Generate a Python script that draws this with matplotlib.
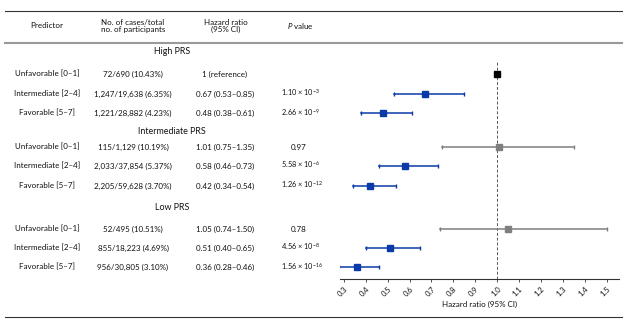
import matplotlib
matplotlib.use("Agg")
from matplotlib import pyplot as plt

plt.rcParams['font.family'] = ['Lato', 'DejaVu Sans']
plt.rcParams['mathtext.fontset'] = 'custom'
plt.rcParams['mathtext.rm'] = 'Lato'
plt.rcParams['mathtext.it'] = 'Lato:italic'

# data
groups = ['High PRS', 'Intermediate PRS', 'Low PRS']
predictors = ['Unfavorable [0\u20131]', 'Intermediate [2\u20134]', 'Favorable [5\u20137]']
cases = [['72/690 (10.43%)', '1,247/19,638 (6.35%)', '1,221/28,882 (4.23%)'],
         ['115/1,129 (10.19%)', '2,033/37,854 (5.37%)', '2,205/59,628 (3.70%)'],
         ['52/495 (10.51%)', '855/18,223 (4.69%)', '956/30,805 (3.10%)']]
hr_text = [['1 (reference)', '0.67 (0.53\u20130.85)', '0.48 (0.38\u20130.61)'],
           ['1.01 (0.75\u20131.35)', '0.58 (0.46\u20130.73)', '0.42 (0.34\u20130.54)'],
           ['1.05 (0.74\u20131.50)', '0.51 (0.40\u20130.65)', '0.36 (0.28\u20130.46)']]
p_text = [['', r'1.10 × 10$^{-3}$', r'2.66 × 10$^{-9}$'],
          ['0.97', r'5.58 × 10$^{-6}$', r'1.26 × 10$^{-12}$'],
          ['0.78', r'4.56 × 10$^{-8}$', r'1.56 × 10$^{-16}$']]
hr = [[1.0, 0.67, 0.48], [1.01, 0.58, 0.42], [1.05, 0.51, 0.36]]
lo = [[None, 0.53, 0.38], [0.75, 0.46, 0.34], [0.74, 0.40, 0.28]]
hi = [[None, 0.85, 0.61], [1.35, 0.73, 0.54], [1.50, 0.65, 0.46]]
xticks = [0.3, 0.4, 0.5, 0.6, 0.7, 0.8, 0.9, 1.0, 1.1, 1.2, 1.3, 1.4, 1.5]

# layout (pixel rows)
group_y = [52, 131, 208]
row_y = [[74, 94, 113], [147, 166, 186], [229, 248, 267]]

W, H = 626, 323
fig = plt.figure(figsize=(W / 100, H / 100), dpi=100)

# overlay axes in pixel coords for the table text
tab = fig.add_axes([0, 0, 1, 1])
tab.set_xlim(0, W)
tab.set_ylim(H, 0)
tab.axis('off')

txt_col = '#111111'
fs = 5.8
tab.plot([5, 622], [11, 11], color='#333333', lw=0.8)
tab.plot([5, 622], [43, 43], color='#999999', lw=1.5)
tab.plot([5, 622], [317, 317], color='#333333', lw=0.8)

tab.text(47, 26, 'Predictor', ha='center', va='center', fontsize=fs, color=txt_col)
tab.text(101, 26, 'No. of cases/total\nno. of participants', ha='left', va='center',
         fontsize=fs, color=txt_col, linespacing=1.1)
tab.text(226, 26, 'Hazard ratio\n(95% CI)', ha='center', va='center', fontsize=fs,
         color=txt_col, linespacing=1.1)
tab.text(287, 26, '$P$ value', ha='left', va='center', fontsize=fs, color=txt_col)

for g in range(3):
    tab.text(172, group_y[g], groups[g], ha='center', va='center', fontsize=fs + 0.6, color=txt_col)
    for r in range(3):
        y = row_y[g][r]
        tab.text(47, y, predictors[r], ha='center', va='center', fontsize=fs, color=txt_col)
        tab.text(133, y, cases[g][r], ha='center', va='center', fontsize=fs, color=txt_col)
        tab.text(225, y, hr_text[g][r], ha='center', va='center', fontsize=fs, color=txt_col)
        if p_text[g][r].startswith('0.'):
            tab.text(299, y, p_text[g][r], ha='center', va='center', fontsize=fs, color=txt_col)
        else:
            tab.text(281, y - 1, p_text[g][r], ha='left', va='center', fontsize=fs - 0.5, color=txt_col)

# forest axes
x0, x1 = 340, 619
ytop, ybot = 55, 279
ax = fig.add_axes([x0 / W, (H - ybot) / H, (x1 - x0) / W, (ybot - ytop) / H])
ax.set_xlim(0.283, 1.555)
ax.set_ylim(ybot, ytop)
ax.axvline(1.0, ymin=0, ymax=(ybot - 61) / (ybot - ytop), color='#555555', lw=0.7, ls=(0, (3, 2)))

blue = '#0a3aa8'
grey = '#7f7f7f'
for g in range(3):
    for r in range(3):
        y = row_y[g][r]
        if lo[g][r] is None:
            ax.plot(hr[g][r], y, 's', color='black', ms=4.5)
            continue
        c = grey if lo[g][r] < 1 < hi[g][r] else blue
        ax.plot([lo[g][r], hi[g][r]], [y, y], color=c, lw=1.1)
        ax.plot([lo[g][r], hi[g][r]], [y, y], '|', color=c, ms=3, mew=1.0)
        ax.plot(hr[g][r], y, 's', color=c, ms=5)

for s in ['top', 'right', 'left']:
    ax.spines[s].set_visible(False)
ax.spines['bottom'].set_color('#333333')
ax.spines['bottom'].set_linewidth(0.8)
ax.set_yticks([])
ax.set_xticks(xticks)
ax.set_xticklabels(['%.1f' % t for t in xticks], rotation=45, ha='right', va='top',
                   rotation_mode='anchor', fontsize=fs - 0.3, color=txt_col)
ax.tick_params(axis='x', length=2.5, width=0.6, color='#333333', pad=2)
ax.set_xlabel('Hazard ratio (95% CI)', fontsize=fs, color=txt_col, labelpad=2)

plt.savefig('out.png', dpi=100)
